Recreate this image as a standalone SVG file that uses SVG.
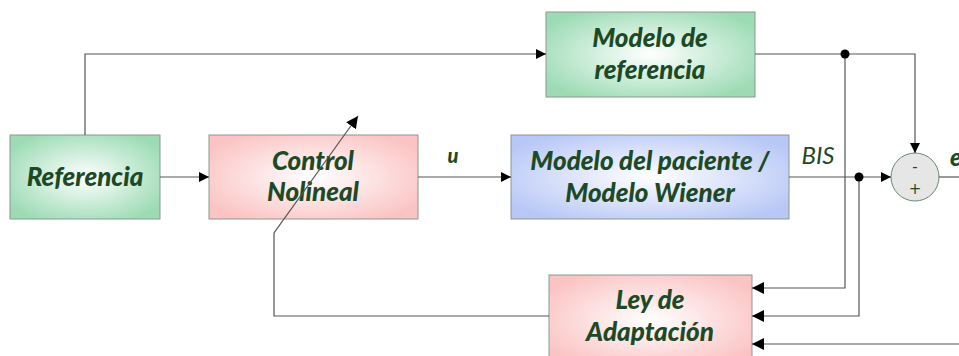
<svg xmlns="http://www.w3.org/2000/svg" width="959" height="356" viewBox="0 0 959 356">
<defs>
<radialGradient id="gGreen" cx="50%" cy="50%" r="60%">
<stop offset="0" stop-color="#ffffff"/><stop offset="1" stop-color="#9cdbb4"/>
</radialGradient>
<radialGradient id="gPink" cx="50%" cy="50%" r="60%">
<stop offset="0" stop-color="#ffffff"/><stop offset="1" stop-color="#fbc3c3"/>
</radialGradient>
<radialGradient id="gBlue" cx="50%" cy="50%" r="60%">
<stop offset="0" stop-color="#ffffff"/><stop offset="1" stop-color="#b8c7f6"/>
</radialGradient>
<marker id="arr" viewBox="0 0 10 10" refX="10" refY="5" markerWidth="10" markerHeight="10" markerUnits="userSpaceOnUse" orient="auto">
<path d="M0,0 L10,5 L0,10 z" fill="#000"/>
</marker>
<marker id="arrL" viewBox="0 0 10 10" refX="10" refY="5" markerWidth="12" markerHeight="12" markerUnits="userSpaceOnUse" orient="auto">
<path d="M0,0 L10,5 L0,10 z" fill="#000"/>
</marker>
</defs>
<style>
.box{stroke:#8a9a8c;stroke-width:1}
.lbl{font-family:Lato,"Open Sans","Liberation Sans",sans-serif;font-weight:900;font-style:italic;font-size:26px;fill:#1c4a26;text-anchor:middle}
.sm{font-family:"DejaVu Sans","Liberation Sans",sans-serif;font-size:15px;fill:#1c4a26;text-anchor:middle}
.ln{fill:none;stroke:#555;stroke-width:1.2}
</style>
<g id="referencia">
<rect class="box" x="10" y="135" width="150" height="84" fill="url(#gGreen)"/>
<text class="lbl" x="85" y="186">Referencia</text>
</g>
<g id="control">
<rect class="box" x="209" y="135" width="209" height="84" fill="url(#gPink)"/>
<text class="lbl" x="313" y="170">Control</text>
<text class="lbl" x="313" y="201">Nolineal</text>
</g>
<g id="modelo-referencia">
<rect class="box" x="546" y="12" width="209" height="85" fill="url(#gGreen)"/>
<text class="lbl" x="650" y="47">Modelo de</text>
<text class="lbl" x="650" y="79">referencia</text>
</g>
<g id="modelo-paciente">
<rect class="box" x="511" y="135" width="278" height="84" fill="url(#gBlue)"/>
<text class="lbl" x="650" y="170">Modelo del paciente /</text>
<text class="lbl" x="650" y="202">Modelo Wiener</text>
</g>
<g id="ley-adaptacion">
<rect class="box" x="549" y="275" width="203" height="90" fill="url(#gPink)"/>
<text class="lbl" x="650" y="309">Ley de</text>
<text class="lbl" x="650" y="341">Adaptación</text>
</g>
<g id="sumador">
<circle cx="915" cy="177" r="24" fill="#e6e6e6" stroke="#6b8a72" stroke-width="1"/>
<text class="sm" x="915" y="172">-</text>
<text class="sm" x="915" y="194">+</text>
</g>
<g id="connectors">
<path class="ln" d="M85,135 V54 H546" marker-end="url(#arr)"/>
<path class="ln" d="M160,177 H209" marker-end="url(#arr)"/>
<path class="ln" d="M418,177 H511" marker-end="url(#arr)"/>
<path class="ln" d="M755,54 H915 V153" marker-end="url(#arr)"/>
<path class="ln" d="M789,177 H891" marker-end="url(#arr)"/>
<path class="ln" d="M939,177 H959"/>
<path class="ln" d="M845,54 V288 H752" marker-end="url(#arrL)"/>
<path class="ln" d="M859,177 V316 H752" marker-end="url(#arrL)"/>
<path class="ln" d="M959,344 H752" marker-end="url(#arrL)"/>
<path class="ln" d="M549,316 H274 V233 L358,116" marker-end="url(#arrL)"/>
<circle cx="845" cy="54" r="4.5" fill="#000"/>
<circle cx="859" cy="177" r="4.5" fill="#000"/>
<text x="453" y="163" class="lbl" style="font-size:20px">u</text>
<text x="818" y="164" style="font-family:Lato,'Open Sans','Liberation Sans',sans-serif;font-style:italic;font-size:24px;fill:#1c4a26" text-anchor="middle">BIS</text>
<text x="956" y="166" class="lbl" style="font-size:24px">e</text>
</g>
</svg>
